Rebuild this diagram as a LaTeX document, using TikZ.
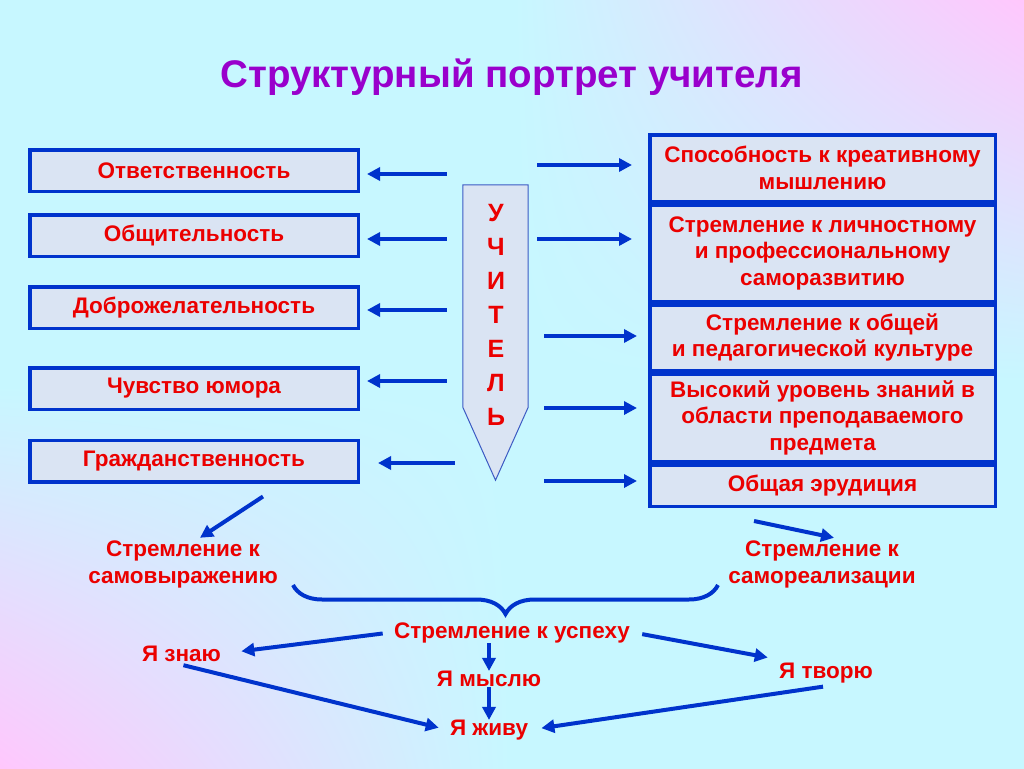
\documentclass[tikz,border=0pt]{standalone}
\usepackage{fontspec}
\setmainfont{Liberation Sans}
\usepackage{xcolor}
\usepackage{tikz}
\usetikzlibrary{positioning,calc,arrows.meta,decorations.pathreplacing}
\definecolor{lineblue}{RGB}{0,51,204}
\definecolor{edgeblue}{RGB}{60,90,195}
\definecolor{boxfill}{RGB}{218,228,243}
\definecolor{textred}{RGB}{235,0,0}
\definecolor{titleviolet}{RGB}{153,0,204}
\pgfdeclarefunctionalshading{slidebg}{\pgfpoint{0bp}{0bp}}{\pgfpoint{100bp}{100bp}}{}{
  50 sub exch 50 sub mul 625 div
  dup 0 lt {pop 0} if
  dup 1 gt {pop 1} if
  dup 0.22 mul 0.78 add exch
  dup -0.19 mul 0.97 add exch
  -0.01 mul 1 add
}
\tikzset{
  quality/.style={
    rectangle,
    draw=lineblue,
    line width=3.5pt,
    fill=boxfill,
    minimum width=328.5pt,
    minimum height=41.5pt,
    text=textred,
    font=\bfseries\fontsize{22.5}{27}\selectfont
  },
  trait/.style={
    rectangle,
    draw=lineblue,
    line width=3.5pt,
    fill=boxfill,
    minimum width=345.5pt,
    inner sep=0pt,
    align=center,
    text=textred,
    font=\bfseries\fontsize{22.5}{26.5}\selectfont
  },
  goal/.style={
    align=center,
    text=textred,
    font=\bfseries\fontsize{22.5}{27}\selectfont
  },
  arrow/.style={
    -{Triangle[length=13pt,width=13pt]},
    line width=4pt,
    draw=lineblue
  },
  curly/.style={
    decorate,
    decoration={brace,mirror,amplitude=29pt},
    line width=4pt,
    draw=lineblue
  }
}
\begin{document}
\begin{tikzpicture}[x=1pt,y=-1pt,node distance=0pt]

\useasboundingbox (0,0) rectangle (1024,768);
\shade[shading=slidebg] (0,0) rectangle (1024,768);

\node[anchor=base, text=titleviolet, font=\bfseries\fontsize{38.5}{44}\selectfont] (title) at (511.5,87) {Структурный портрет учителя};

% left column
\node[quality] (q1) at (194,170.5) {Ответственность};
\node[quality] (q2) at (194,235.5) {Общительность};
\node[quality] (q3) at (194,307.5) {Доброжелательность};
\node[quality] (q4) at (194,388.5) {Чувство юмора};
\node[quality] (q5) at (194,461) {Гражданственность};

% teacher
\node[minimum width=65pt, minimum height=222pt, inner sep=0pt] (teacher) at (495.5,296) {};
\draw[draw=edgeblue, line width=1pt, fill=boxfill] (teacher.north west) -- (teacher.north east) -- (teacher.south east) -- ([yshift=-73pt]teacher.south) -- (teacher.south west) -- cycle;
\node[align=center, text=textred, font=\bfseries\fontsize{25}{34}\selectfont] (word) at (496,315) {У\\Ч\\И\\Т\\Е\\Л\\Ь};

% right column
\node[trait, minimum height=66.5pt] (r1) at (822.5,168) {Способность к креативному\\мышлению};
\node[trait, minimum height=96.5pt, below=of r1] (r2) {Стремление к личностному\\и профессиональному\\саморазвитию};
\node[trait, minimum height=65.5pt, below=of r2] (r3) {Стремление к общей\\ и педагогической культуре};
\node[trait, minimum height=87.5pt, below=of r3] (r4) {Высокий уровень знаний в\\области преподаваемого\\предмета};
\node[trait, minimum height=41.5pt, below=of r4] (r5) {Общая эрудиция};

\draw[arrow] ($(teacher.west |- q1)+(-16,3.5)$) -- ($(q1.east)+(7,3.5)$);
\draw[arrow] ($(teacher.west |- q2)+(-16,3.5)$) -- ($(q2.east)+(7,3.5)$);
\draw[arrow] ($(teacher.west |- q3)+(-16,2.5)$) -- ($(q3.east)+(7,2.5)$);
\draw[arrow] ($(teacher.west |- q4)+(-16,-7.5)$) -- ($(q4.east)+(7,-7.5)$);
\draw[arrow] ($(teacher.west |- q5)+(-8,2)$) -- ($(q5.east)+(18,2)$);

\draw[arrow] ($(teacher.east |- r1)+(9,-3)$) -- ($(r1.west)+(-16,-3)$);
\draw[arrow] ($(teacher.east |- r2)+(9,-14)$) -- ($(r2.west)+(-16,-14)$);
\draw[arrow] ($(teacher.east |- r3)+(16,-1.5)$) -- ($(r3.west)+(-11,-1.5)$);
\draw[arrow] ($(teacher.east |- r4)+(16,-9.5)$) -- ($(r4.west)+(-11,-9.5)$);
\draw[arrow] ($(teacher.east |- r5)+(16,-4.5)$) -- ($(r5.west)+(-11,-4.5)$);

% bottom part
\node[goal] (selfexp) at (183,564) {Стремление к\\самовыражению};
\node[goal] (selfreal) at (822,564) {Стремление к\\самореализации};
\node[goal, anchor=base] (success) at (512,638) {Стремление к успеху};
\node[goal, anchor=base] (know) at (181.5,661) {Я знаю};
\node[goal, anchor=base] (think) at (489,686) {Я мыслю};
\node[goal, anchor=base] (create) at (826,678) {Я творю};
\node[goal, anchor=base] (live) at (489,735) {Я живу};

\draw[arrow] ($(q5.south)+(69,13)$) -- ($(selfexp.north)+(17,1)$);
\draw[arrow] ($(r5.south)+(-68.5,13)$) -- ($(selfreal.north)+(12,1)$);
\draw[curly] (293,585) -- (718,585);

\draw[arrow, shorten <=8pt, shorten >=17pt] (success.west) -- (know.east);
\draw[arrow, shorten <=-3pt, shorten >=-4pt] (think.north |- success.south) -- (think.north);
\draw[arrow, shorten <=9pt, shorten >=8pt] (success.east) -- (create.north west);
\draw[arrow, shorten <=2pt, shorten >=8pt] (know.south) -- (live.west);
\draw[arrow, shorten <=-3pt, shorten >=-4pt] (think.south) -- (live.north);
\draw[arrow, shorten <=3pt, shorten >=10pt] (create.south) -- (live.east);

\end{tikzpicture}
\end{document}
